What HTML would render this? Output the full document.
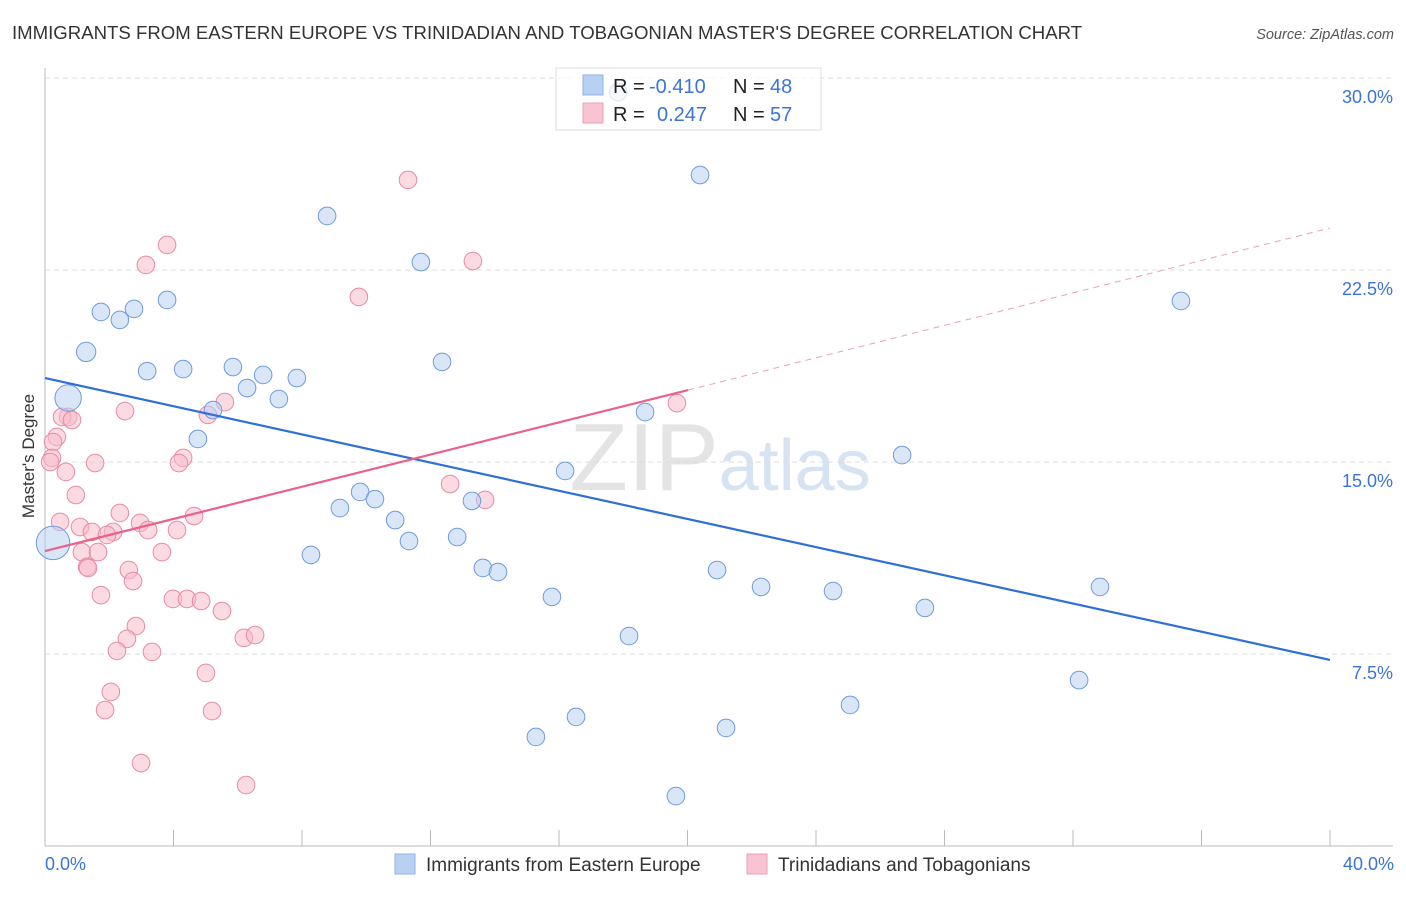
<!DOCTYPE html>
<html><head><meta charset="utf-8"><style>
body{margin:0;background:#fff;font-family:"Liberation Sans",sans-serif;}
svg text{font-family:"Liberation Sans",sans-serif;}
</style></head><body>
<svg id="chart" width="1406" height="892" viewBox="0 0 1406 892" xmlns="http://www.w3.org/2000/svg">
<text x="12" y="39" font-size="18.6" fill="#333">IMMIGRANTS FROM EASTERN EUROPE VS TRINIDADIAN AND TOBAGONIAN MASTER'S DEGREE CORRELATION CHART</text>
<text x="1394" y="39" font-size="14.5" fill="#555" font-style="italic" text-anchor="end">Source: ZipAtlas.com</text>
<text x="720" y="490" font-size="96" fill="#e4e4e4" text-anchor="middle" font-family="Liberation Serif"><tspan>ZIP</tspan><tspan font-family="Liberation Sans" font-size="72" fill="#d6e3f3">atlas</tspan></text>
<g id="grid"></g>
<g id="axes"></g>
<g id="lines"></g>
<g id="pts"></g>
<text transform="translate(34,456) rotate(-90)" font-size="17" fill="#333" text-anchor="middle">Master's Degree</text>
<text x="45" y="870" font-size="18" fill="#3b74d6">0.0%</text>
<text x="1394" y="870" font-size="18" fill="#3b74d6" text-anchor="end">40.0%</text>
<g id="legend">
<rect x="556" y="68" width="265" height="62" fill="#fff" fill-opacity="0.75" stroke="#ddd"/>
<rect x="583" y="75" width="20" height="20" fill="#b8d1f3" stroke="#8fb1e6"/>
<rect x="583" y="103" width="20" height="20" fill="#f8c4d2" stroke="#ec9fb5"/>
<text x="613" y="93" font-size="20" fill="#222">R = <tspan x="649" fill="#3b74d6">-0.410</tspan><tspan x="733">N = </tspan><tspan x="770" fill="#3b74d6">48</tspan></text>
<text x="613" y="121" font-size="20" fill="#222">R = <tspan x="657" fill="#3b74d6">0.247</tspan><tspan x="733">N = </tspan><tspan x="770" fill="#3b74d6">57</tspan></text>
</g>
<g>
<rect x="395" y="854" width="20" height="20" fill="#b8d1f3" stroke="#8fb1e6"/>
<text x="426" y="871" font-size="19" fill="#333">Immigrants from Eastern Europe</text>
<rect x="747" y="854" width="20" height="20" fill="#f8c4d2" stroke="#ec9fb5"/>
<text x="778" y="871" font-size="19" fill="#333">Trinidadians and Tobagonians</text>
</g>
</svg>
<script>
const yTicks=[7.5,15,22.5,30];
const xTicks=[4,8,12,16,20,24,28,32,36,40];
const blueX=[0.72,0.25,1.28,1.74,2.33,2.77,3.80,3.18,4.30,4.76,5.23,5.85,6.29,6.79,7.28,7.84,8.78,8.28,9.18,9.81,10.27,10.90,11.33,11.70,12.36,12.83,13.29,13.63,14.10,15.78,16.19,15.28,16.53,18.18,18.68,19.64,20.39,20.92,21.20,22.29,24.53,25.06,26.68,27.39,32.19,32.84,35.36,17.84];
const blueY=[17.5,11.84,19.3,20.86,20.55,20.98,21.33,18.55,18.63,15.90,17.03,18.71,17.89,18.40,17.46,18.28,24.61,11.37,13.20,13.83,13.55,12.73,11.91,22.81,18.91,12.07,13.48,10.86,10.70,9.73,14.65,4.26,5.04,8.20,16.95,1.95,26.21,10.78,4.61,10.12,9.96,5.51,15.27,9.30,6.48,10.12,21.29,29.45];
const blueW=[1.5,1.9,1.1,1,1,1,1,1,1,1,1,1,1,1,1,1,1,1,1,1,1,1,1,1,1,1,1,1,1,1,1,1,1,1,1,1,1,1,1,1,1,1,1,1,1,1,1,1];
const pinkX=[2.49,0.72,0.53,0.84,0.37,0.25,0.22,0.16,1.56,0.65,0.96,0.47,1.09,1.46,2.33,2.96,3.21,2.12,1.93,4.11,4.64,1.15,1.65,1.31,1.34,2.61,2.74,3.64,1.74,3.98,4.42,4.86,5.51,2.83,2.55,2.24,3.33,6.19,6.54,5.01,2.05,1.87,5.20,2.99,6.26,4.30,4.17,5.07,5.60,3.14,3.80,11.30,13.32,9.77,19.67,12.61,13.70];
const pinkY=[16.99,16.76,16.76,16.64,15.98,15.78,15.16,15.00,14.96,14.61,13.71,12.66,12.46,12.27,13.01,12.62,12.34,12.27,12.15,12.34,12.89,11.48,11.48,10.90,10.86,10.78,10.35,11.48,9.80,9.65,9.65,9.57,9.18,8.59,8.09,7.62,7.58,8.13,8.24,6.76,6.02,5.31,5.27,3.24,2.38,15.16,14.96,16.84,17.34,22.70,23.48,26.02,22.85,21.45,17.30,14.14,13.52];
const blueTrend=[[0,18.28],[40,7.27]];
const pinkTrend=[[0,11.52],[20.02,17.81]];
const pinkTrendExt=[[20.02,17.81],[40,24.14]];
const sx=v=>45+v*32.125, sy=v=>846-v*25.6;
const NS='http://www.w3.org/2000/svg';
function mk(t,a,p){const e=document.createElementNS(NS,t);for(const k in a)e.setAttribute(k,a[k]);p.appendChild(e);return e;}
const grid=document.getElementById('grid'),axes=document.getElementById('axes'),lines=document.getElementById('lines'),pts=document.getElementById('pts');
yTicks.forEach(v=>{
 const l=mk('line',{x1:45,x2:1393,y1:sy(v),y2:sy(v),stroke:'#ddd','stroke-dasharray':'5,4'},grid);
 
 
 const t=mk('text',{x:1393,y:sy(v)+25,'font-size':18,fill:'#3b74d6','text-anchor':'end'},grid);
 t.textContent=v.toFixed(1)+'%';
 
 
});
const ya=mk('line',{x1:45,x2:45,y1:68,y2:846,stroke:'#bbb'},axes);


const xa=mk('line',{x1:45,x2:1393,y1:846,y2:846,stroke:'#bbb'},axes);


xTicks.forEach(v=>{
 const t=mk('line',{x1:sx(v),x2:sx(v),y1:830,y2:846,stroke:'#bbb'},axes);
 
 
});
function dot(x,y,r,fill,stroke,name){
 const c=mk('circle',{cx:sx(x),cy:sy(y),r:r,fill:fill,'fill-opacity':0.55,stroke:stroke,'stroke-width':1},pts);
 
 
}
pinkX.forEach((x,i)=>dot(x,pinkY[i],8.8,'#f7bccb','#e88aa6','pink-point'));
blueX.forEach((x,i)=>dot(x,blueY[i],8.8*blueW[i],'#b8d1f3','#6f9bdc','blue-point'));
const bl=mk('line',{x1:sx(blueTrend[0][0]),y1:sy(blueTrend[0][1]),x2:sx(blueTrend[1][0]),y2:sy(blueTrend[1][1]),stroke:'#2f6fd8','stroke-width':2.2},lines);


const pl=mk('line',{x1:sx(pinkTrend[0][0]),y1:sy(pinkTrend[0][1]),x2:sx(pinkTrend[1][0]),y2:sy(pinkTrend[1][1]),stroke:'#e8628c','stroke-width':2.2},lines);


const pe=mk('line',{x1:sx(pinkTrendExt[0][0]),y1:sy(pinkTrendExt[0][1]),x2:sx(pinkTrendExt[1][0]),y2:sy(pinkTrendExt[1][1]),stroke:'#e8a0b6','stroke-width':1,'stroke-dasharray':'6,5'},lines);


const svg=document.getElementById('chart');
svg.appendChild(lines);
svg.appendChild(document.getElementById('legend'));
</script>
</body></html>
